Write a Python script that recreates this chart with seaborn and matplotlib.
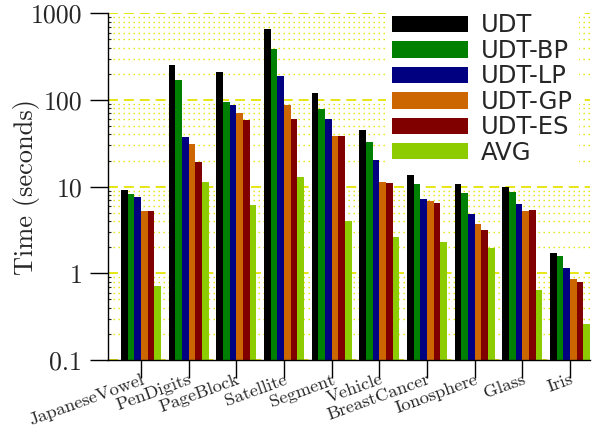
import numpy as np
import pandas as pd
import matplotlib
matplotlib.use("Agg")
import matplotlib.pyplot as plt
import seaborn as sns

DATASETS = ['JapaneseVowel', 'PenDigits', 'PageBlock', 'Satellite', 'Segment',
            'Vehicle', 'BreastCancer', 'Ionosphere', 'Glass', 'Iris']
METHODS = ['UDT', 'UDT-BP', 'UDT-LP', 'UDT-GP', 'UDT-ES', 'AVG']

udt = [9.1, 251, 210, 654, 120, 45.4, 13.5, 10.7, 9.9, 1.72]
udt_bp = [8.2, 169, 95, 388, 79, 32.7, 10.8, 8.45, 8.75, 1.58]
udt_lp = [7.5, 37, 87, 191, 60, 20.1, 7.2, 4.8, 6.3, 1.16]
udt_gp = [5.3, 31, 71, 87.5, 38.4, 11.2, 6.8, 3.74, 5.3, 0.86]
udt_es = [5.3, 19.3, 58, 60, 38.4, 11.0, 6.4, 3.16, 5.4, 0.79]
avg = [0.715, 11.3, 6.1, 12.9, 4.0, 2.62, 2.3, 1.98, 0.64, 0.262]

COLORS = ['#000000', '#008000', '#000080', '#cc6600', '#800000', '#8ccc00']
YTICKS = [0.1, 1, 10, 100, 1000]
YTICK_LABELS = ['0.1', '1', '10', '100', '1000']

series = [udt, udt_bp, udt_lp, udt_gp, udt_es, avg]
rows = []
for m, vals in zip(METHODS, series):
    for d, v in zip(DATASETS, vals):
        rows.append({'dataset': d, 'method': m, 'time': v})
df = pd.DataFrame(rows)

sns.set_style('ticks')
plt.rcParams['axes.formatter.use_mathtext'] = True

fig = plt.figure(figsize=(5.93, 4.33), dpi=100)
ax = fig.add_axes([108 / 593, 1 - 360 / 433, 482 / 593, 346.7 / 433])

sns.barplot(data=df, x='dataset', y='time', hue='method', order=DATASETS,
            hue_order=METHODS, palette=COLORS, saturation=1, width=0.84,
            errorbar=None, linewidth=0, ax=ax)

ax.set_yscale('log')
ax.set_ylim(0.1, 1000)
ax.set_xlim(-0.69, 9.42)

cm = 'cmr10'
ax.set_yticks(YTICKS)
ax.set_yticklabels(YTICK_LABELS, fontfamily=cm, fontsize=18.7)
ax.set_xticks(range(len(DATASETS)))
ax.set_xticklabels(DATASETS, fontfamily=cm, fontsize=13.3, rotation=20,
                   ha='right', va='top', rotation_mode='anchor')
ax.tick_params(axis='both', which='major', direction='out', length=13,
               width=1, color='black', pad=5.5)
ax.tick_params(axis='x', pad=-4.5)
ax.tick_params(axis='y', which='minor', direction='in', length=2.5, width=0.8)
ax.tick_params(axis='x', which='minor', length=0)

ax.set_xlabel('')
ax.set_ylabel('Time (seconds)', fontfamily=cm, fontsize=19)
ax.yaxis.set_label_coords(-0.142, 0.5)

ax.set_axisbelow(True)
ax.yaxis.grid(True, which='major', color='#e4e400', linestyle=(0, (5.5, 3.3)),
              linewidth=1.3)
ax.yaxis.grid(True, which='minor', color='#e4e400', linestyle=(0, (1, 2.6)),
              linewidth=1.0)
ax.xaxis.grid(False)

sns.despine(ax=ax)
for s in ['left', 'bottom']:
    ax.spines[s].set_color('black')
    ax.spines[s].set_linewidth(1)

sns.move_legend(ax, 'upper left', bbox_to_anchor=(0.577, 1.017), title=None,
                frameon=True, facecolor='white', edgecolor='none', framealpha=1,
                fancybox=False, borderaxespad=0, borderpad=0.25,
                prop={'family': 'DejaVu Sans', 'size': 17.5},
                handlelength=3.1, handleheight=0.66, handletextpad=0.55,
                labelspacing=0.06)

fig.savefig('out.png', dpi=100)
